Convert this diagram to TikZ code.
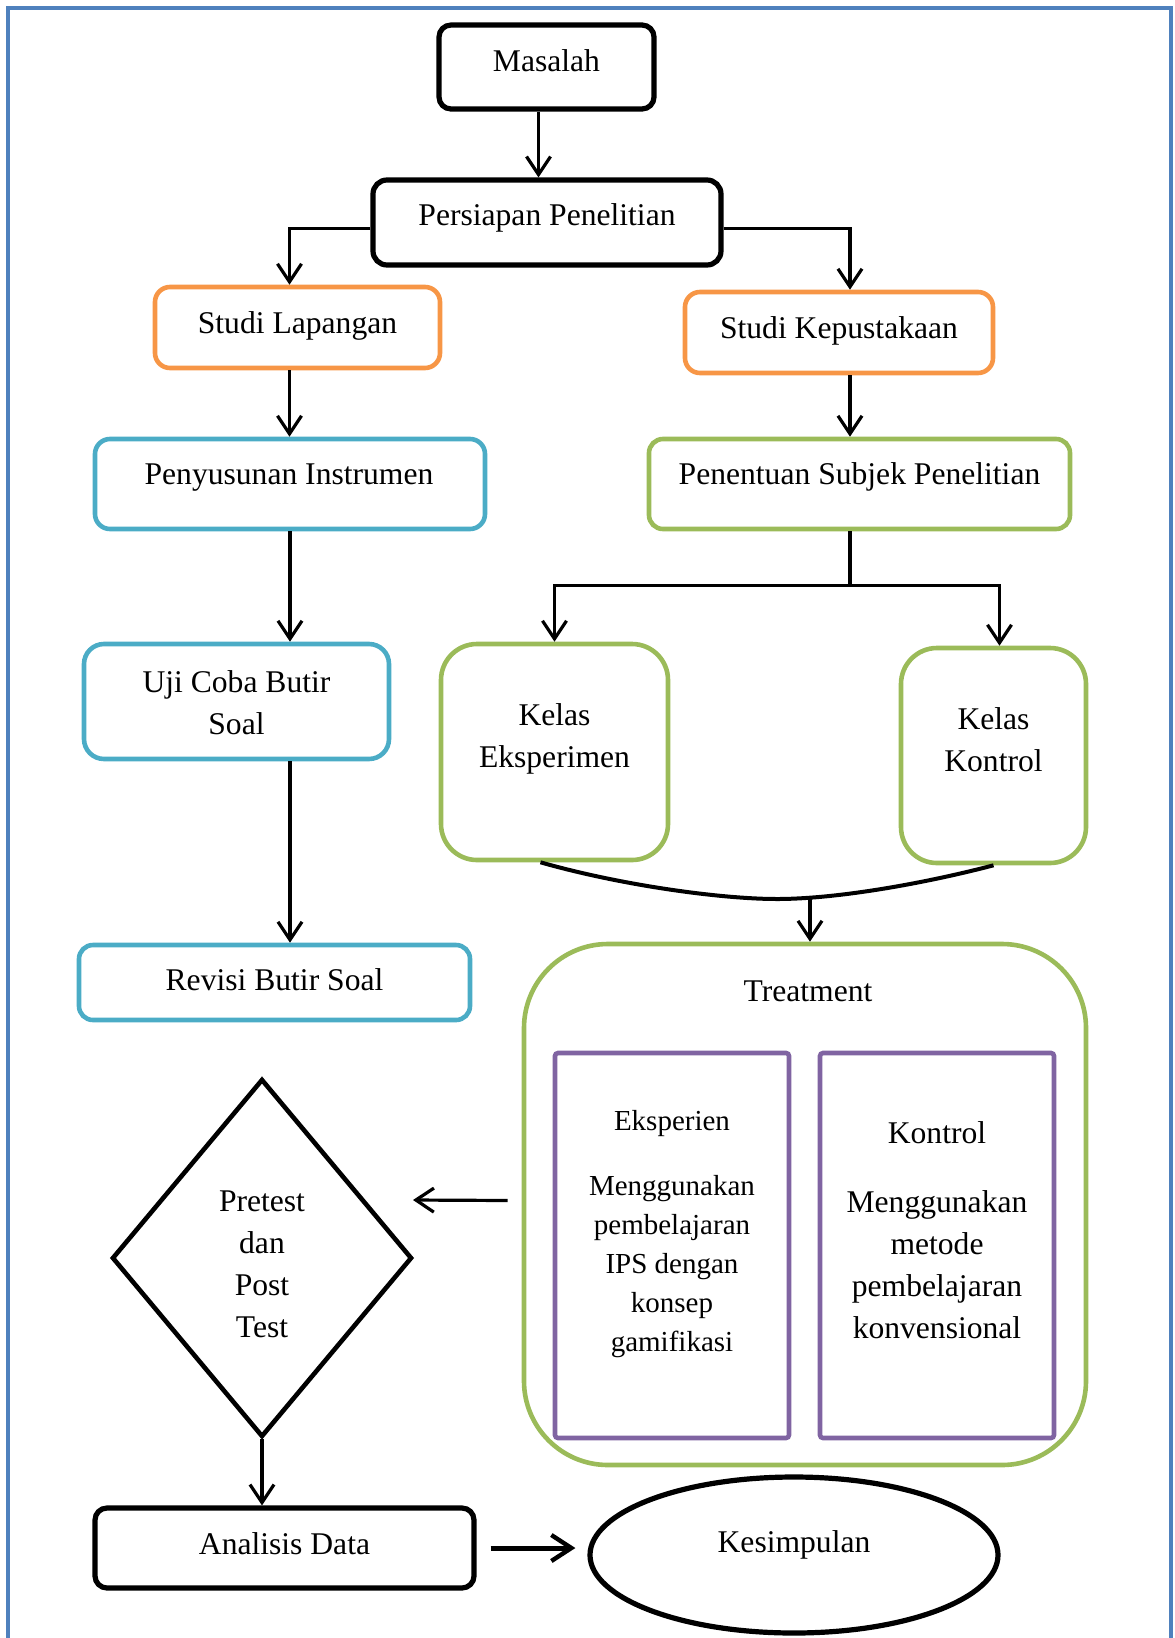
\documentclass[tikz,border=0pt]{standalone}
\usepackage{fontspec}
\setmainfont{Liberation Serif}
\usepackage{tikz}
\usetikzlibrary{arrows.meta, calc, shapes.geometric}

\definecolor{frameblue}{RGB}{79,129,189}
\definecolor{boxorange}{RGB}{247,150,70}
\definecolor{boxblue}{RGB}{75,172,198}
\definecolor{boxgreen}{RGB}{155,187,89}
\definecolor{boxpurple}{RGB}{128,100,162}

\newcommand{\bigtxt}{\fontsize{15.8}{21}\selectfont}
\newcommand{\smalltxt}{\fontsize{14.5}{19.5}\selectfont}

\tikzset{
	flowbox/.style={rectangle, inner sep=0pt, line width=2.3pt, draw=#1},
	flowbox/.default=black,
	txt/.style={inner sep=0pt, font=\bigtxt, text height=0.7em, text depth=0.2em},
	lines/.style={inner sep=0pt, font=\bigtxt, align=center},
	arr/.style={line width=1.6pt, -{Straight Barb[length=9pt, width=12pt, line width=1.6pt]}},
	bigarr/.style={line width=2.5pt, -{Straight Barb[length=10pt, width=13pt, line width=2.2pt]}},
}

\begin{document}
\begin{tikzpicture}[x=0.5pt, y=0.5pt]
	\useasboundingbox (0,0) rectangle (1174,-1638);
	\draw[frameblue, line width=2pt] (8,-1650) -- (8,-8) -- (1171,-8) -- (1171,-1650);

	% boxes
	\node[flowbox, rounded corners=6pt, line width=2.6pt, minimum width=107.5pt, minimum height=42pt] (masalah) at (546.5,-67) {};
	\node[flowbox, rounded corners=7pt, line width=2.6pt, minimum width=174pt, minimum height=42.5pt] (persiapan) at (547,-222.5) {};
	\node[flowbox=boxorange, rounded corners=7.5pt, minimum width=142.5pt, minimum height=40.5pt] (studiL) at (297.5,-327.5) {};
	\node[flowbox=boxorange, rounded corners=7.5pt, minimum width=154pt, minimum height=40.5pt] (studiK) at (839,-332.5) {};
	\node[flowbox=boxblue, rounded corners=7.5pt, minimum width=195pt, minimum height=45pt] (penyusunan) at (290,-484) {};
	\node[flowbox=boxgreen, rounded corners=7pt, minimum width=210.5pt, minimum height=45pt] (penentuan) at (859.5,-484) {};
	\node[flowbox=boxblue, rounded corners=10pt, minimum width=152.5pt, minimum height=57.5pt] (ujiCoba) at (236.5,-701.5) {};
	\node[flowbox=boxgreen, rounded corners=18pt, minimum width=113.5pt, minimum height=108pt] (kelasE) at (554.5,-752) {};
	\node[flowbox=boxgreen, rounded corners=18pt, minimum width=92.5pt, minimum height=107.5pt] (kelasK) at (993.5,-755.5) {};
	\node[flowbox=boxblue, rounded corners=7pt, minimum width=195.5pt, minimum height=37.5pt] (revisi) at (274.5,-982.5) {};
	\node[flowbox=boxgreen, rounded corners=42pt, minimum width=281pt, minimum height=260.5pt] (treatment) at (805,-1204.5) {};
	\node[flowbox=boxpurple, rounded corners=1.5pt, minimum width=117pt, minimum height=192.5pt] (ekspBox) at (672,-1245.5) {};
	\node[flowbox=boxpurple, rounded corners=1.5pt, minimum width=117pt, minimum height=192.5pt] (kontrolBox) at (937,-1245.5) {};
	\node[diamond, draw, line width=2.3pt, inner sep=0pt, minimum width=150pt, minimum height=179pt] (pretest) at (262,-1258) {};
	\node[flowbox, rounded corners=6pt, line width=2.6pt, minimum width=189.5pt, minimum height=40pt] (analisis) at (284.5,-1548) {};
	\node[ellipse, draw, line width=2.6pt, inner sep=0pt, minimum width=204pt, minimum height=78pt] (kesimpulan) at (794,-1555) {};

	% texts
	\node[txt] (masalahT) at ($ (masalah)+(0,1) $) {Masalah};
	\node[txt] (persiapanT) at ($ (persiapan)+(0,2.5) $) {Persiapan Penelitian};
	\node[txt] (studiLT) at ($ (studiL)+(0,-0.5) $) {Studi Lapangan};
	\node[txt] (studiKT) at ($ (studiK)+(0,-0.5) $) {Studi Kepustakaan};
	\node[txt] (penyusunanT) at ($ (penyusunan)+(-1,5) $) {Penyusunan Instrumen};
	\node[txt] (penentuanT) at ($ (penentuan)+(0,5) $) {Penentuan Subjek Penelitian};
	\node[lines] (ujiCobaT) at ($ (ujiCoba)+(0,-1.5) $) {Uji Coba Butir\\Soal};
	\node[lines] (kelasET) at ($ (kelasE)+(0,13) $) {Kelas\\Eksperimen};
	\node[lines] (kelasKT) at ($ (kelasK)+(0,15.5) $) {Kelas\\Kontrol};
	\node[txt] (revisiT) at ($ (revisi)+(0,-2.5) $) {Revisi Butir Soal};
	\node[txt] (treatmentT) at ($ (treatment.north)+(3,-55) $) {Treatment};
	\node[lines, font=\smalltxt] (ekspT) at ($ (ekspBox)+(0,11) $) {Eksperien\\[13pt]Menggunakan\\pembelajaran\\IPS dengan\\konsep\\gamifikasi};
	\node[lines] (kontrolT) at ($ (kontrolBox)+(0,15) $) {Kontrol\\[13.5pt]Menggunakan\\metode\\pembelajaran\\konvensional};
	\node[lines] (pretestT) at ($ (pretest)+(0,-6) $) {Pretest\\dan\\Post\\Test};
	\node[txt] (analisisT) at ($ (analisis)+(0,-1) $) {Analisis Data};
	\node[txt] (kesimpulanT) at ($ (kesimpulan)+(0,8) $) {Kesimpulan};

	% connectors
	\draw[arr] ([xshift=-4pt]masalah.south) -- ([xshift=-4pt]masalah.south |- persiapan.north);
	\draw[arr] ([yshift=-3pt]persiapan.west) -| ([xshift=-4pt]studiL.north);
	\draw[arr] ([yshift=-3pt]persiapan.east) -| ([xshift=5.5pt]studiK.north);
	\draw[arr] ([xshift=-4pt]studiL.south) -- ([xshift=-4pt]studiL.south |- penyusunan.north);
	\draw[arr] ([xshift=5.5pt]studiK.south) -- ([xshift=5.5pt]studiK.south |- penentuan.north);
	\draw[arr] (penyusunan.south) -- (penyusunan.south |- ujiCoba.north);
	\draw[arr] (penyusunan.south |- ujiCoba.south) -- (penyusunan.south |- revisi.north);

	\coordinate (split) at ($ (penentuan.south)+(-9.5,-54) $);
	\draw[line width=1.6pt] (split |- penentuan.south) -- (split);
	\draw[arr] (split) -| (kelasE.north);
	\draw[arr] (split) -| ([xshift=3pt]kelasK.north);

	\coordinate (dip) at (810,-898);
	\draw[line width=2pt] ([xshift=-7pt]kelasE.south) .. controls (620,-885) and (720,-899) .. (777,-899) .. controls (840,-899) and (930,-882) .. (kelasK.south);
	\draw[arr] (dip) -- (dip |- treatment.north);

	\coordinate (pretestIn) at (413,-1200);
	\draw[arr] ([xshift=-7pt, yshift=2pt]treatment.west) -- (pretestIn);
	\draw[arr] (pretest.south) -- (pretest.south |- analisis.north);
	\draw[bigarr] ([xshift=7pt]analisis.east) -- ([xshift=-6pt]kesimpulan.west |- analisis.east);
\end{tikzpicture}
\end{document}
